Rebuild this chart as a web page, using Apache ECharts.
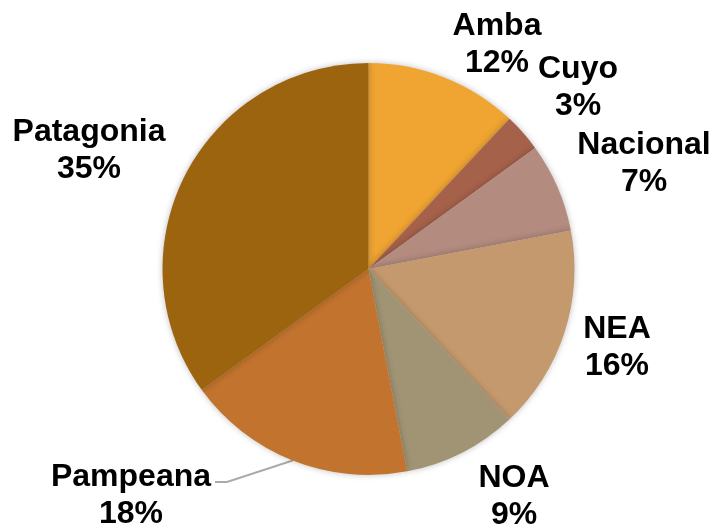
<!DOCTYPE html>
<html>
<head>
<meta charset="utf-8">
<script src="https://cdn.jsdelivr.net/npm/echarts@6/dist/echarts.min.js"></script>
<style>
  html, body { margin: 0; padding: 0; background: #fff; }
  #chart { width: 713px; height: 531px; }
</style>
</head>
<body>
<div id="chart"></div>
<script>
// datos de la torta (sentido horario desde arriba)
const regiones = ['Amba', 'Cuyo', 'Nacional', 'NEA', 'NOA', 'Pampeana', 'Patagonia']
const porcentajes = [12, 3, 7, 16, 9, 18, 35]
const colores = ['#F0A431', '#A5614A', '#B38B7F', '#C4996D', '#A09474', '#C2732E', '#9C640E']

// posicion de cada etiqueta (centro del bloque de texto)
const posEtiquetas = [
    [497, 45], [578, 88], [644, 164], [617, 348], [514, 497], [131, 496], [89, 151]
]

const chart = echarts.init(document.getElementById('chart'))

const option = {
    animation: false,
    series: [{
        type: 'pie',
        center: [368.5, 269],
        radius: 206,
        startAngle: 90,
        clockwise: true,
        itemStyle: {
            shadowBlur: 6,
            shadowColor: 'rgba(0,0,0,0.25)'
        },
        label: {
            show: true,
            position: 'outside',
            formatter: '{b}\n{c}%',
            fontFamily: 'Liberation Sans, Arial, sans-serif',
            fontWeight: 'bold',
            fontSize: 32,
            lineHeight: 37,
            color: '#000',
            align: 'center',
            overflow: 'none',
            width: 300
        },
        labelLine: { show: false },
        labelLayout: (params) => {
            const p = posEtiquetas[params.dataIndex]
            const res = { x: p[0], y: p[1], align: 'center', verticalAlign: 'middle' }
            // linea guia solo para Pampeana
            if (regiones[params.dataIndex] === 'Pampeana' && params.labelLinePoints) {
                const start = params.labelLinePoints[0]
                res.labelLinePoints = [start, [227, 482], [215, 482]]
            }
            return res
        },
        data: regiones.map((name, i) => ({
            name,
            value: porcentajes[i],
            itemStyle: { color: colores[i] },
            labelLine: name === 'Pampeana'
                ? { show: true, lineStyle: { color: '#aaa', width: 2 } }
                : { show: false }
        }))
    }]
}

chart.setOption(option)
</script>
</body>
</html>
